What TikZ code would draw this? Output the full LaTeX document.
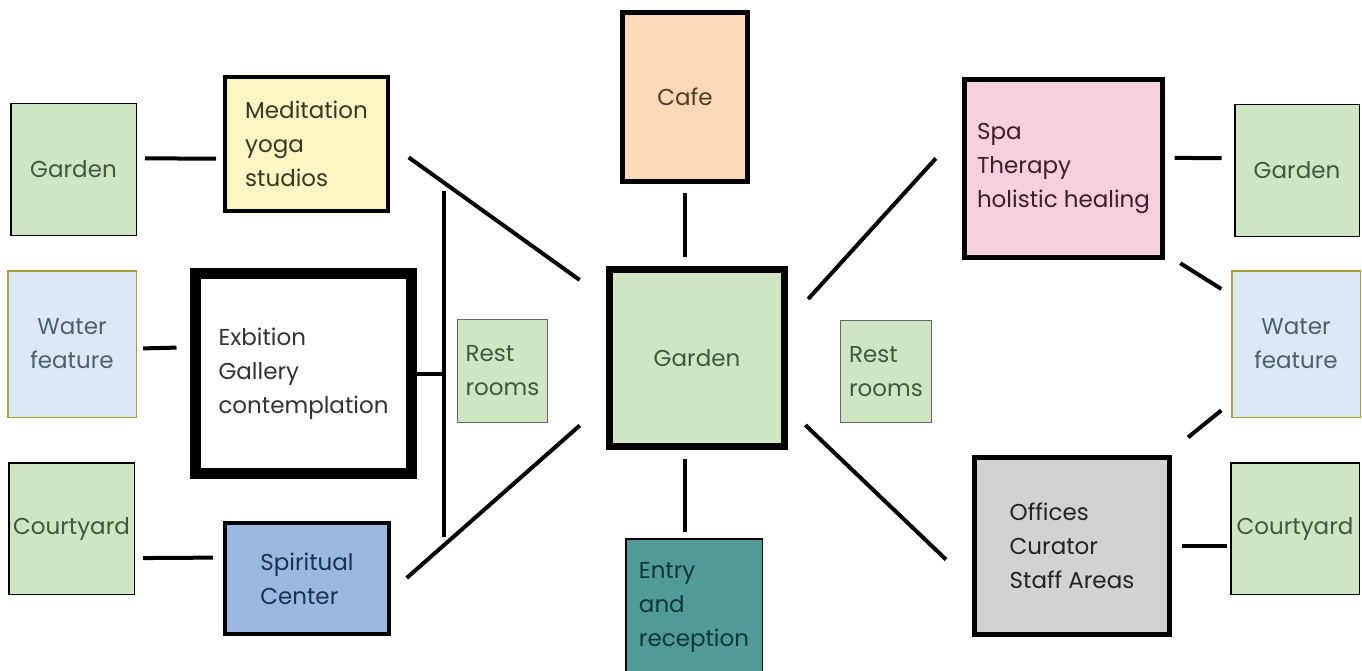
\documentclass[tikz,border=0pt]{standalone}
\usepackage{fontspec}
\setmainfont{Poppins}
\usetikzlibrary{calc}

\definecolor{greenfill}{RGB}{208,230,195}
\definecolor{greentext}{RGB}{60,90,60}
\definecolor{waterfill}{RGB}{220,233,245}
\definecolor{waterline}{RGB}{165,160,60}
\definecolor{watertext}{RGB}{80,95,105}
\definecolor{meditfill}{RGB}{251,246,196}
\definecolor{medittext}{RGB}{60,55,35}
\definecolor{exbtext}{RGB}{50,50,50}
\definecolor{spiritfill}{RGB}{155,184,224}
\definecolor{spirittext}{RGB}{25,50,80}
\definecolor{cafefill}{RGB}{252,217,182}
\definecolor{cafetext}{RGB}{80,60,40}
\definecolor{entryfill}{RGB}{80,155,152}
\definecolor{entrytext}{RGB}{15,55,55}
\definecolor{spafill}{RGB}{248,208,221}
\definecolor{spatext}{RGB}{60,30,45}
\definecolor{officefill}{RGB}{210,210,210}
\definecolor{officetext}{RGB}{35,35,35}

\newcommand{\roomfont}{\fontsize{23}{34}\selectfont}

\tikzset{
  room/.style={rectangle, draw=black, align=left, inner sep=0pt, font=\roomfont},
  side/.style={room, line width=1.5pt, fill=greenfill, text=greentext},
  pond/.style={side, align=center, fill=waterfill, draw=waterline, text=watertext},
  link/.style={line width=4pt},
}

\begin{document}
\begin{tikzpicture}[x=1pt,y=1pt,yscale=-1,xscale=1]
		\useasboundingbox (0,0) rectangle (1362,671);
		% left wing
		\node[side, minimum width=125.5pt, minimum height=131.5pt] (gardenL) at (73.5,169.5) {Garden};
		\node[pond, minimum width=128.5pt, minimum height=146.5pt] (waterL) at (72,344) {Water\\feature};
		\node[side, minimum width=125.5pt, minimum height=131.5pt] (courtL) at (71.5,528.5) {Courtyard};
		\node[room, line width=4pt, fill=meditfill, text=medittext, minimum width=163pt, minimum height=134pt] (medit) at (306.5,144) {Meditation\\yoga\\studios};
		\node[room, line width=11pt, fill=white, text=exbtext, minimum width=216pt, minimum height=200pt] (exb) at (303.5,373.5) {Exbition\\Gallery\\contemplation};
		\node[room, line width=4pt, fill=spiritfill, text=spirittext, minimum width=164pt, minimum height=111pt] (spirit) at (307,578.5) {Spiritual\\Center};
		\node[side, line width=1.2pt, draw=black!60, minimum width=90pt, minimum height=103pt] (restL) at (502.5,371) {Rest\\rooms};
		\coordinate (barT) at (444,191);
		\coordinate (barB) at (444,537);
		% centre
		\node[room, line width=5pt, fill=cafefill, text=cafetext, minimum width=125pt, minimum height=169pt] (cafe) at (685,97) {Cafe};
		\node[room, line width=7pt, fill=greenfill, text=greentext, minimum width=175pt, minimum height=177pt] (gardenC) at (697,358) {Garden};
		\node[side, fill=entryfill, text=entrytext, minimum width=136.5pt, minimum height=136.5pt] (entry) at (694,607) {Entry\\and\\reception};
		% right wing
		\node[side, line width=1.2pt, draw=black!60, minimum width=91pt, minimum height=102pt] (restR) at (886,371.5) {Rest\\rooms};
		\node[room, line width=5pt, fill=spafill, text=spatext, minimum width=198pt, minimum height=178pt] (spa) at (1063.5,168.5) {Spa\\Therapy\\holistic healing};
		\node[room, line width=5pt, fill=officefill, text=officetext, minimum width=195pt, minimum height=177pt] (offices) at (1072,546) {Offices\\Curator\\Staff Areas};
		\node[side, minimum width=124.5pt, minimum height=131.5pt] (gardenR) at (1297,170.5) {Garden};
		\node[pond, minimum width=128.5pt, minimum height=146.5pt] (waterR) at (1296,344) {Water\\feature};
		\node[side, minimum width=128.5pt, minimum height=131.5pt] (courtR) at (1295,528.5) {Courtyard};

		% connectors
		\draw[link, shorten <=8pt, shorten >=7pt] (gardenL.10) -- (medit.190);
		\draw[link, shorten <=6pt, shorten >=13.5pt] (waterL.-4) -- (exb.167);
		\draw[link, shorten <=8pt, shorten >=10pt] (courtL.-25) -- (spirit.166);
		\draw[link] (exb.east) -- (exb.east -| barT);
		\draw[link] (barT) -- (barB);
		\draw[link, shorten <=23pt, shorten >=32.5pt] (medit.east) -- (gardenC.147);
		\draw[link, shorten <=21pt, shorten >=35pt] (spirit.-9) -- (gardenC.206);
		\draw[link, shorten <=9.5pt, shorten >=9.5pt] (cafe.south) -- (cafe.south |- gardenC.north);
		\draw[link, shorten <=8.5pt, shorten >=6.5pt] (cafe.south |- gardenC.south) -- (cafe.south |- entry.north);
		\draw[link, shorten <=30pt, shorten >=39pt] (gardenC.22) -- (spa.159);
		\draw[link, shorten <=24pt, shorten >=36pt] (gardenC.-29) -- (offices.201);
		\draw[link, shorten <=9.5pt, shorten >=12.5pt] (spa.6) -- (gardenR.169);
		\draw[link, shorten <=18pt, shorten >=11.5pt] (spa.-40) -- (waterR.143);
		\draw[link, shorten <=28pt, shorten >=12.5pt] (offices.44) -- (waterR.222);
		\draw[link, shorten <=10pt, shorten >=3pt] (offices.east) -- (offices.east -| courtR.west);
\end{tikzpicture}
\end{document}
